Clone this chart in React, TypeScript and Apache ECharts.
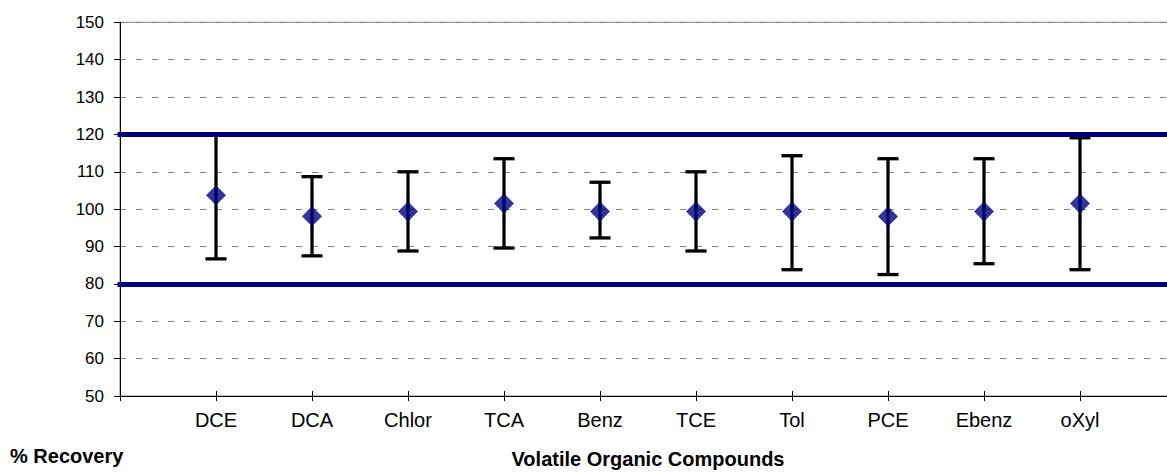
import React, { useEffect, useRef } from "react";
import * as echarts from "echarts";

// Compounds and their recovery statistics (% recovery)
const compounds = ["DCE", "DCA", "Chlor", "TCA", "Benz", "TCE", "Tol", "PCE", "Ebenz", "oXyl"];
const meanRecovery = [103.7, 98.1, 99.4, 101.5, 99.4, 99.4, 99.4, 98.0, 99.4, 101.5];
const lowRecovery = [86.7, 87.5, 88.8, 89.6, 92.3, 88.8, 83.8, 82.5, 85.4, 83.8];
const highRecovery = [120.0, 108.7, 110.0, 113.5, 107.2, 110.0, 114.3, 113.5, 113.5, 119.1];
// Acceptance limits
const controlLimits = [120, 80];
const yTicks = { min: 50, max: 150, interval: 10 };

const FONT = "'Liberation Sans', Arial, sans-serif";

// The plot area runs a little past the visible frame on the right
const CANVAS_W = 1180;
const VIEW_W = 1167;
const VIEW_H = 474;

export default function App() {
  const ref = useRef<HTMLDivElement>(null);

  useEffect(() => {
    if (!ref.current) return;
    const chart = echarts.init(ref.current, undefined, { renderer: "svg" });

    // Empty slot at each end so the compounds sit on interior ticks
    const categories = ["", ...compounds, ""];
    const points = compounds.map((_, i) => [i + 1, meanRecovery[i]]);
    const bars = compounds.map((_, i) => [i + 1, lowRecovery[i], highRecovery[i]]);

    chart.setOption({
      animation: false,
      backgroundColor: "#ffffff",
      grid: {
        left: 120,
        right: 4,
        top: 22.3,
        bottom: 74,
        show: true,
        borderColor: "#808080",
        borderWidth: 1,
        backgroundColor: "transparent",
      },
      xAxis: [
        {
          type: "category",
          data: categories,
          boundaryGap: false,
          axisLine: { show: true, lineStyle: { color: "#000", width: 1 } },
          axisTick: { show: true, length: 5, lineStyle: { color: "#000", width: 1 } },
          axisLabel: {
            show: true,
            interval: 0,
            fontSize: 20,
            fontFamily: FONT,
            color: "#000",
            margin: 14,
          },
          splitLine: { show: false },
          name: "Volatile Organic Compounds",
          nameLocation: "middle",
          nameGap: 53,
          nameTextStyle: { fontSize: 20, fontWeight: "bold", fontFamily: FONT, color: "#000" },
        },
        {
          type: "category",
          data: categories,
          boundaryGap: false,
          position: "bottom",
          axisLine: { show: false },
          axisTick: {
            show: true,
            inside: true,
            length: 5,
            interval: (i: number) => i > 0,
            lineStyle: { color: "#000", width: 1 },
          },
          axisLabel: { show: false },
          splitLine: { show: false },
        },
      ],
      yAxis: {
        type: "value",
        min: yTicks.min,
        max: yTicks.max,
        interval: yTicks.interval,
        axisLine: { show: true, lineStyle: { color: "#000", width: 1 } },
        axisTick: { show: true, length: 6, lineStyle: { color: "#000", width: 1 } },
        axisLabel: { fontSize: 17, fontFamily: FONT, color: "#000", margin: 16 },
        splitLine: {
          show: true,
          lineStyle: { color: "#808080", width: 1, type: [6, 10] },
        },
      },
      graphic: [
        {
          type: "text",
          left: 10,
          top: 446,
          style: {
            text: "% Recovery",
            font: `bold 20px ${FONT}`,
            fill: "#000",
          },
        },
      ],
      series: [
        {
          type: "custom",
          name: "range",
          z: 2,
          data: bars,
          renderItem: (params: any, api: any) => {
            const x = api.value(0);
            const lo = api.coord([x, api.value(1)]);
            const hi = api.coord([x, api.value(2)]);
            const half = 10.5;
            const style = { stroke: "#000", lineWidth: 3.3 };
            return {
              type: "group",
              children: [
                { type: "line", shape: { x1: lo[0], y1: lo[1], x2: hi[0], y2: hi[1] }, style },
                { type: "line", shape: { x1: hi[0] - half, y1: hi[1], x2: hi[0] + half, y2: hi[1] }, style },
                { type: "line", shape: { x1: lo[0] - half, y1: lo[1], x2: lo[0] + half, y2: lo[1] }, style },
              ],
            };
          },
        },
        {
          type: "scatter",
          name: "mean",
          z: 4,
          data: points,
          symbol: "diamond",
          symbolSize: 20,
          itemStyle: { color: "#000080" },
          markLine: {
            silent: true,
            symbol: "none",
            label: { show: false },
            lineStyle: { color: "#000080", width: 5, type: "solid", cap: "square" },
            data: controlLimits.map((v) => ({ yAxis: v })),
          },
        },
      ],
    });

    return () => chart.dispose();
  }, []);

  return (
    <div
      style={{
        position: "absolute",
        left: 0,
        top: 0,
        width: VIEW_W,
        height: VIEW_H,
        overflow: "hidden",
        background: "#fff",
      }}
    >
      <div ref={ref} style={{ width: CANVAS_W, height: VIEW_H }} />
    </div>
  );
}
